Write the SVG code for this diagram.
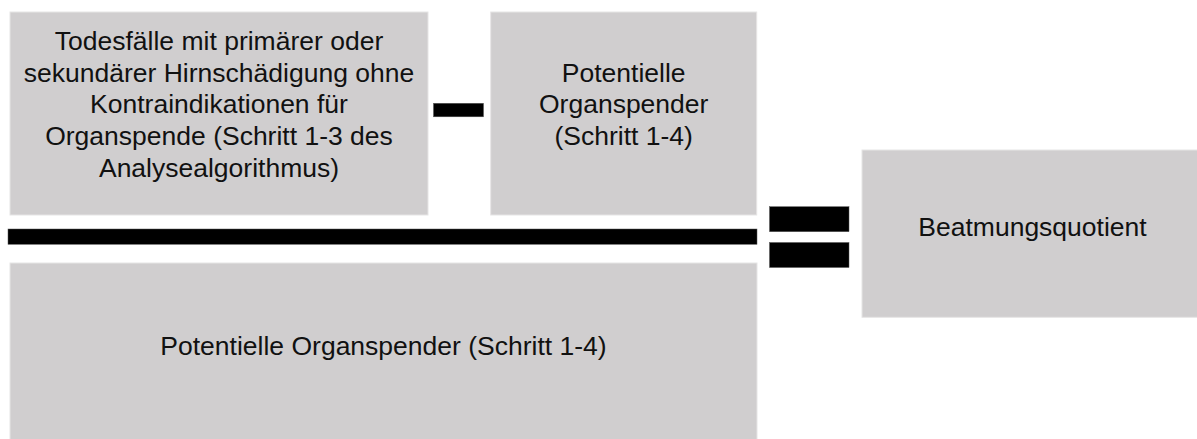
<svg xmlns="http://www.w3.org/2000/svg" width="1197" height="439" viewBox="0 0 1197 439">
<style>
.box{fill:#D0CECF;stroke:#E6E5E5;stroke-width:1}
.bar{fill:#000;stroke:#555;stroke-width:0.5}
.t{font-family:"Liberation Sans",Arial,sans-serif;font-size:26.5px;fill:#111;text-anchor:middle}
</style>
<rect width="1197" height="439" fill="#fff"/>
<g id="node-todesfaelle">
<rect class="box" x="10" y="12" width="418" height="203"/>
<text class="t" x="219" y="50">Todesfälle mit primärer oder</text>
<text class="t" x="219" y="81.7">sekundärer Hirnschädigung ohne</text>
<text class="t" x="219" y="113.4">Kontraindikationen für</text>
<text class="t" x="219" y="145.1">Organspende (Schritt 1-3 des</text>
<text class="t" x="219" y="176.8">Analysealgorithmus)</text>
</g>
<g id="node-potentielle-top">
<rect class="box" x="490.7" y="12" width="266" height="203"/>
<text class="t" x="623.7" y="81.7">Potentielle</text>
<text class="t" x="623.7" y="113.4">Organspender</text>
<text class="t" x="623.7" y="145.1">(Schritt 1-4)</text>
</g>
<g id="node-potentielle-bottom">
<rect class="box" x="10" y="263" width="747" height="180"/>
<text class="t" x="383.5" y="355">Potentielle Organspender (Schritt 1-4)</text>
</g>
<g id="node-beatmungsquotient">
<rect class="box" x="862" y="150" width="340" height="167.3"/>
<text class="t" x="1032.5" y="235.7">Beatmungsquotient</text>
</g>
<g id="connectors">
<rect class="bar" x="433.5" y="103.3" width="50" height="13.5"/>
<rect class="bar" x="8" y="229" width="749" height="15.3"/>
<rect class="bar" x="769.5" y="206.7" width="79.5" height="25"/>
<rect class="bar" x="769.5" y="242.5" width="79.5" height="25"/>
</g>
</svg>
